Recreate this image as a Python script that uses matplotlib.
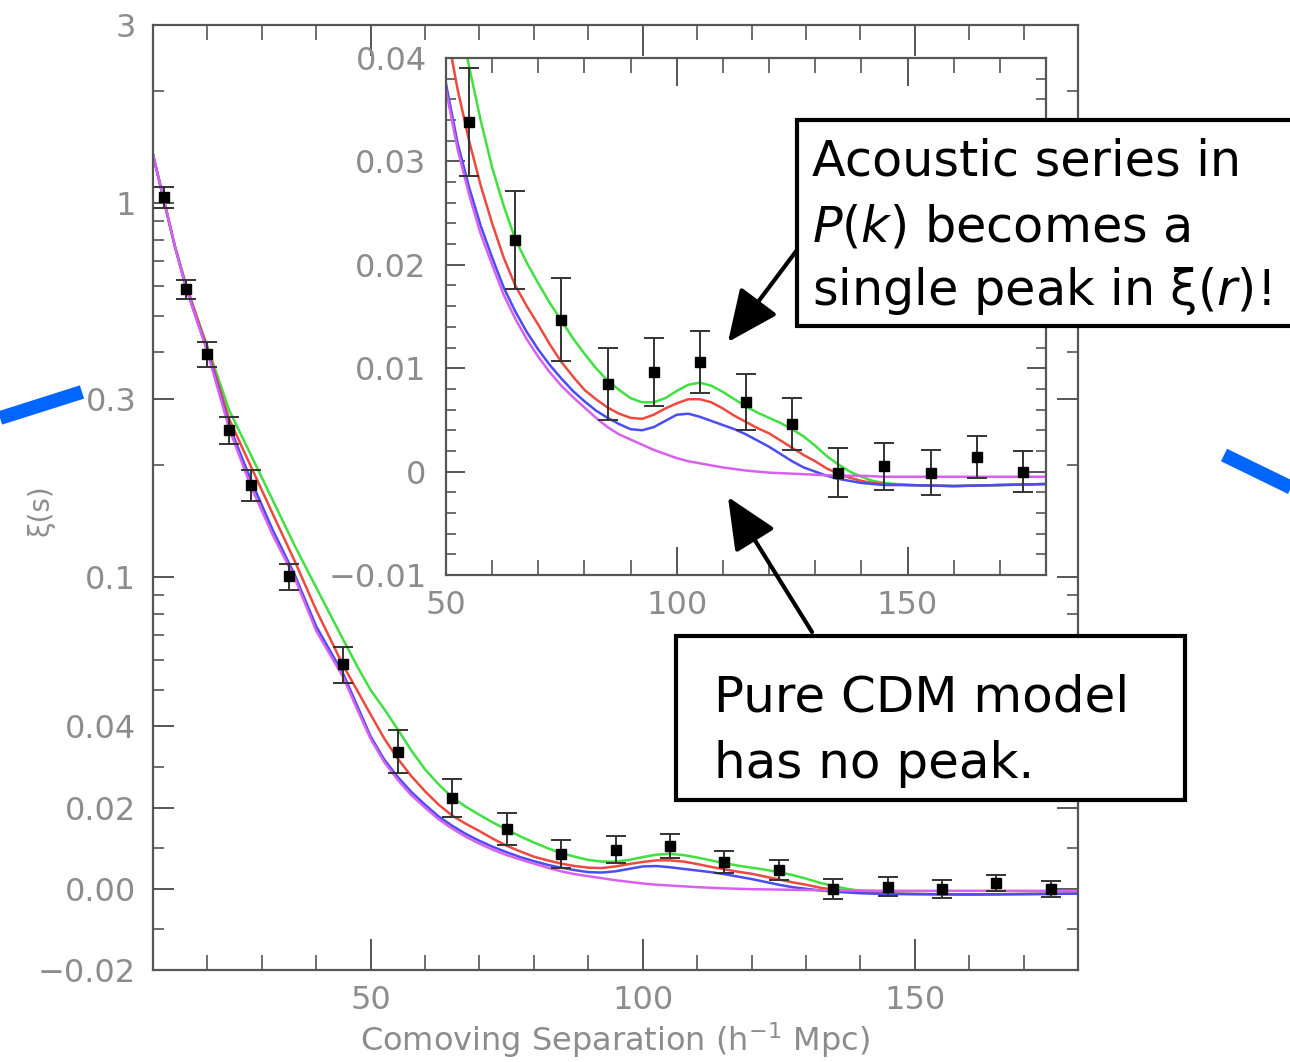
import numpy as np
import matplotlib.pyplot as plt
from matplotlib.patches import Rectangle, FancyArrowPatch
from matplotlib.lines import Line2D
from matplotlib.ticker import FixedLocator, MultipleLocator

# model curves (xi vs comoving separation)
r_model = [10, 12, 14, 16, 18, 20, 24, 28, 32, 36, 40, 45,
           47.5, 50, 52.5, 55, 57.5, 60, 62.5, 65, 67.5, 70, 72.5, 75, 77.5, 80,
           82.5, 85, 87.5, 90, 92.5, 95, 97.5, 100, 102.5, 105, 107.5, 110, 112.5, 115,
           117.5, 120, 122.5, 125, 127.5, 130, 132.5, 135, 137.5, 140, 142.5, 145,
           150, 160, 170, 180]
xi_green = [1.35, 1.02, 0.77, 0.61, 0.50, 0.415, 0.28, 0.2125, 0.161, 0.122, 0.094, 0.068,
            0.058, 0.050, 0.0445, 0.0392, 0.0340, 0.0294, 0.0257, 0.0225, 0.0202, 0.0182,
            0.0163, 0.0146, 0.0129, 0.0114, 0.0100, 0.0088, 0.0079, 0.0071, 0.0067, 0.0067,
            0.0071, 0.0078, 0.0084, 0.0086, 0.0083, 0.0077, 0.0070, 0.0063, 0.0057, 0.0052,
            0.0047, 0.0041, 0.0034, 0.0025, 0.0015, 0.0007, 0.0000, -0.0005, -0.0009, -0.0011,
            -0.0013, -0.0014, -0.0013, -0.0012]
xi_red = [1.35, 1.02, 0.77, 0.61, 0.50, 0.41, 0.265, 0.198, 0.148, 0.111, 0.0818, 0.058,
          0.050, 0.043, 0.037, 0.032, 0.0277, 0.024, 0.0207, 0.018, 0.0160, 0.0142,
          0.0123, 0.0106, 0.0092, 0.0079, 0.0070, 0.0062, 0.0056, 0.0052, 0.0051, 0.0055,
          0.0061, 0.0066, 0.0070, 0.0070, 0.0067, 0.0061, 0.0054, 0.0048, 0.0042, 0.0037,
          0.0030, 0.0023, 0.0016, 0.0010, 0.0003, -0.0002, -0.0006, -0.0009, -0.0011, -0.0012,
          -0.0013, -0.0014, -0.0013, -0.0012]
xi_blue = [1.35, 1.02, 0.77, 0.60, 0.49, 0.405, 0.255, 0.182, 0.134, 0.102, 0.074, 0.0551,
           0.0455, 0.0375, 0.0318, 0.0275, 0.0238, 0.0207, 0.0178, 0.0155, 0.0135, 0.0118,
           0.0103, 0.0090, 0.0078, 0.0068, 0.0059, 0.0052, 0.0046, 0.0041, 0.0040, 0.0043,
           0.0049, 0.0055, 0.0056, 0.0053, 0.0049, 0.0045, 0.0041, 0.0036, 0.0030, 0.0024,
           0.0017, 0.0010, 0.0004, 0.0000, -0.0004, -0.0007, -0.0009, -0.0011, -0.0012, -0.0013,
           -0.0013, -0.0014, -0.0013, -0.0012]
xi_cdm = [1.35, 1.02, 0.77, 0.60, 0.49, 0.40, 0.25, 0.175, 0.130, 0.100, 0.072, 0.054,
          0.0445, 0.0369, 0.0312, 0.0268, 0.0230, 0.0200, 0.0171, 0.0148, 0.0128, 0.0111,
          0.0096, 0.0083, 0.0072, 0.0062, 0.0052, 0.0043, 0.0036, 0.0031, 0.0026, 0.0021,
          0.0017, 0.0013, 0.0010, 0.0008, 0.0006, 0.0004, 0.00025, 0.0001, 0.0000, -0.0001,
          -0.00015, -0.0002, -0.00025, -0.0003, -0.00035, -0.0004, -0.0004, -0.0004, -0.00045,
          -0.0005, -0.0005, -0.0005, -0.0005, -0.0005]

# measured points
r_data = [12, 16, 20, 24, 28, 35, 45, 55, 65, 75, 85, 95, 105, 115, 125, 135, 145, 155, 165, 175]
xi_data = [1.04, 0.59, 0.396, 0.248, 0.177, 0.1007, 0.0587, 0.0338, 0.0224, 0.0147, 0.0085,
           0.0096, 0.0106, 0.0067, 0.0046, -0.0001, 0.0005, -0.0001, 0.0014, 0.0000]
xi_err = [0.065, 0.035, 0.03, 0.02, 0.017, 0.008, 0.0065, 0.0052, 0.0047, 0.0040, 0.0035,
          0.0033, 0.0030, 0.0027, 0.0025, 0.0024, 0.0023, 0.0022, 0.0020, 0.0020]

main_yticks = [-0.02, 0.0, 0.02, 0.04, 0.1, 0.3, 1, 3]
main_ylabels = ['\u22120.02', '0.00', '0.02', '0.04', '0.1', '0.3', '1', '3']
inset_yticks = [-0.01, 0.0, 0.01, 0.02, 0.03, 0.04]
inset_ylabels = ['\u22120.01', '0', '0.01', '0.02', '0.03', '0.04']

colors = {'green': '#3fe03f', 'red': '#ec4a3e', 'blue': '#4a4cf4', 'cdm': '#d860f0'}
GRAY = '#8c8c8c'
W, H = 1290, 1062


def fwd(y):
    # linear below 0.04, logarithmic above (matched slope)
    y = np.asarray(y, dtype=float)
    safe = np.maximum(y, 0.04)
    return np.where(y <= 0.04, y, 0.04 * (1 + np.log(safe / 0.04)))


def inv(f):
    f = np.asarray(f, dtype=float)
    return np.where(f <= 0.04, f, 0.04 * np.exp(np.minimum(f, 1.0) / 0.04 - 1))


def fxy(x, y):
    return (x / W, 1 - y / H)


def draw_models(ax):
    ax.plot(r_model, xi_green, color=colors['green'], lw=1.8)
    ax.plot(r_model, xi_red, color=colors['red'], lw=1.8)
    ax.plot(r_model, xi_blue, color=colors['blue'], lw=1.8)
    ax.plot(r_model, xi_cdm, color=colors['cdm'], lw=1.8)
    ax.errorbar(r_data, xi_data, yerr=xi_err, fmt='s', color='black', ms=6.5,
                ecolor='#333333', elinewidth=1.4, capsize=7, capthick=1.4, zorder=5)


def style_axes(ax, xlen, ylen):
    for s in ax.spines.values():
        s.set_color('#555555')
        s.set_linewidth(1.6)
    ax.tick_params(axis='x', which='major', direction='in', length=xlen[0], width=1.4,
                   top=True, bottom=True, color='#555555', labelcolor=GRAY, labelsize=23, pad=11)
    ax.tick_params(axis='x', which='minor', direction='in', length=xlen[1], width=1.2,
                   top=True, bottom=True, color='#555555')
    ax.tick_params(axis='y', which='major', direction='in', length=ylen[0], width=1.4,
                   left=True, right=True, color='#555555', labelcolor=GRAY, labelsize=23, pad=12)
    ax.tick_params(axis='y', which='minor', direction='in', length=ylen[1], width=1.2,
                   left=True, right=True, color='#555555')


fig = plt.figure(figsize=(W / 100, H / 100), dpi=100)

# main panel
ax = fig.add_axes([153 / W, 1 - 970 / H, (1078 - 153) / W, (970 - 25) / H])
ax.set_yscale('function', functions=(fwd, inv))
draw_models(ax)
ax.set_xlim(10, 180)
ax.set_ylim(-0.02, 3)
ax.set_xticks([50, 100, 150])
ax.xaxis.set_minor_locator(MultipleLocator(10))
ax.set_yticks(main_yticks)
ax.set_yticklabels(main_ylabels)
ax.yaxis.set_minor_locator(FixedLocator(
    [-0.01, 0.01, 0.03, 0.05, 0.06, 0.07, 0.08, 0.09, 0.2,
     0.4, 0.5, 0.6, 0.7, 0.8, 0.9, 2]))
style_axes(ax, (22, 11), (15, 8))

# inset
axi = fig.add_axes([446 / W, 1 - 575 / H, (1046 - 446) / W, (575 - 58) / H])
draw_models(axi)
axi.set_xlim(50, 180)
axi.set_ylim(-0.01, 0.04)
axi.set_xticks([50, 100, 150])
axi.xaxis.set_minor_locator(MultipleLocator(10))
axi.set_yticks(inset_yticks)
axi.set_yticklabels(inset_ylabels)
axi.yaxis.set_minor_locator(MultipleLocator(0.002))
style_axes(axi, (20, 11), (14, 7))
axi.tick_params(axis='y', which='major', pad=14)

# axis titles
fig.text(615 / W, 1 - 1040 / H, 'Comoving Separation (h$^{-1}$ Mpc)', color=GRAY,
         fontsize=23, ha='center', va='center')
fig.text(40 / W, 1 - 510 / H, '\u03be(s)', color=GRAY, fontsize=20, rotation=90,
         ha='center', va='center')

# annotation boxes
fig.add_artist(Rectangle(fxy(797, 326), (1300 - 797) / W, (326 - 120) / H,
                         transform=fig.transFigure, facecolor='white', edgecolor='black', lw=3))
fig.add_artist(Rectangle(fxy(676, 800), (1185 - 676) / W, (800 - 636) / H,
                         transform=fig.transFigure, facecolor='white', edgecolor='black', lw=3))

box1_lines = ['Acoustic series in', '$P$($k$) becomes a', 'single peak in \u03be($r$)!']
for txt, yb in zip(box1_lines, [176, 242, 305]):
    fig.text(812 / W, 1 - yb / H, txt, fontsize=35.5, ha='left', va='baseline')
box2_lines = ['Pure CDM model', 'has no peak.']
for txt, yb in zip(box2_lines, [712, 778]):
    fig.text(714 / W, 1 - yb / H, txt, fontsize=36, ha='left', va='baseline')

# arrows
for tail, tip in [((797, 250), (728, 342)), ((812, 632), (728, 497))]:
    fig.add_artist(FancyArrowPatch(fxy(*tail), fxy(*tip), transform=fig.transFigure,
                                   arrowstyle='-|>,head_length=1.0,head_width=0.45',
                                   mutation_scale=32, color='black', lw=3,
                                   shrinkA=0, shrinkB=0))

# slide connector lines
fig.add_artist(Line2D([0 / W, 82 / W], [1 - 418 / H, 1 - 392 / H], transform=fig.transFigure,
                      color='#0066ff', lw=10, solid_capstyle='butt'))
fig.add_artist(Line2D([1224 / W, 1300 / W], [1 - 455 / H, 1 - 492 / H],
                      transform=fig.transFigure, color='#0066ff', lw=10, solid_capstyle='butt'))

fig.savefig('out.png', dpi=100)
